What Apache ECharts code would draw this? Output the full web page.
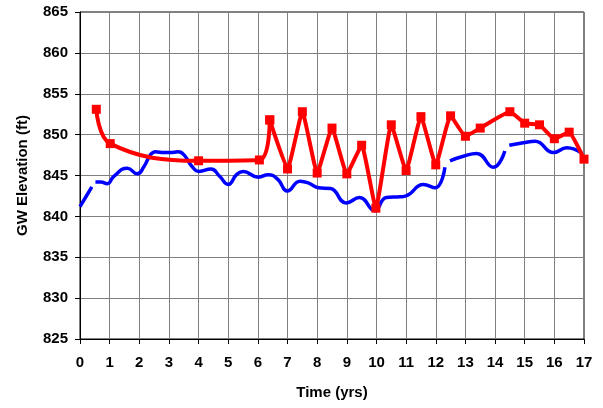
<!DOCTYPE html>
<html>
<head>
<meta charset="utf-8">
<script src="https://cdn.jsdelivr.net/npm/echarts@6/dist/echarts.min.js"></script>
<style>
html,body{margin:0;padding:0;background:#fff;}
#chart{width:603px;height:408px;}
</style>
</head>
<body>
<div id="chart"></div>
<script>
// Observed (red, with markers)
const redX = [0.55, 1.02, 4.0, 6.05, 6.4, 7.0, 7.5, 8.0, 8.5, 9.0, 9.5, 9.98, 10.5, 11.0, 11.5, 12.0, 12.5, 13.0, 13.5, 14.5, 15.0, 15.5, 16.0, 16.5, 17.0];
const redY = [853.1, 848.9, 846.8, 846.9, 851.8, 845.8, 852.8, 845.3, 850.8, 845.2, 848.7, 841.0, 851.2, 845.6, 852.2, 846.3, 852.3, 849.8, 850.8, 852.8, 851.4, 851.2, 849.5, 850.3, 847.0];
// index where the sparse (strongly smoothed) early record ends
const redSplit = 4;

// Simulated (blue dashed); null = break in the line
const blueX = [0.0, 0.2, 0.4, 0.46,
  0.52, 0.7, 0.92, 1.14, 1.6, 1.93, 2.16, 2.38, 2.55, 2.83, 3.05, 3.3, 3.5, 3.78, 4.01, 4.42, 4.71, 5.0, 5.28, 5.5, 6.01, 6.35, 6.68, 6.99, 7.42, 7.7, 8.04, 8.45, 8.98, 9.43, 9.94, 10.33, 10.8, 11.0, 11.58, 11.98, 12.31, 12.4,
  12.48, 12.93, 13.38, 13.94, 14.33, 14.4,
  14.48, 14.95, 15.35, 15.97, 16.42, 16.93];
const blueY = [841.2, 842.4, 843.6, null,
  844.2, 844.2, 844.0, 844.9, 845.9, 845.2, 846.1, 847.55, 847.9, 847.8, 847.8, 847.9, 847.55, 846.1, 845.5, 845.8, 844.9, 843.9, 845.1, 845.5, 844.8, 845.1, 844.5, 843.1, 844.3, 844.1, 843.5, 843.4, 841.65, 842.3, 840.7, 842.3, 842.4, 842.5, 843.9, 843.5, 846.0, null,
  846.8, 847.35, 847.7, 846.0, 848.0, null,
  848.7, 849.0, 849.2, 847.8, 848.4, 847.7];

const xTicks = {min: 0, max: 17, step: 1};
const yTicks = {min: 825, max: 865, step: 5};

const chart = echarts.init(document.getElementById('chart'), null, {renderer: 'canvas'});
const font = '"Liberation Sans", Arial, sans-serif';
const axisCommon = {
  axisLine: {show: true, lineStyle: {color: '#000', width: 1}},
  axisTick: {show: true, inside: false, length: 5, lineStyle: {color: '#000'}},
  splitLine: {show: true, lineStyle: {color: '#808080', width: 1}},
  axisLabel: {color: '#000', fontWeight: 'bold', fontSize: 15, fontFamily: font},
  nameTextStyle: {color: '#000', fontWeight: 'bold', fontSize: 15, fontFamily: font}
};
const redPairs = redX.map((x, i) => [x, redY[i]]);
const redStyle = {
  type: 'line', name: 'Observed',
  symbol: 'rect', symbolSize: 9,
  itemStyle: {color: '#ff0000'},
  lineStyle: {color: '#ff0000', width: 4},
  z: 3
};
chart.setOption({
  animation: false,
  backgroundColor: '#fff',
  grid: {left: 80, right: 19, top: 12, bottom: 69, show: true, borderColor: '#000', borderWidth: 1, backgroundColor: 'transparent'},
  xAxis: Object.assign({}, axisCommon, {
    type: 'value', min: xTicks.min, max: xTicks.max, interval: xTicks.step,
    name: 'Time (yrs)', nameLocation: 'middle', nameGap: 46,
    axisLabel: Object.assign({}, axisCommon.axisLabel, {margin: 16})
  }),
  yAxis: Object.assign({}, axisCommon, {
    type: 'value', min: yTicks.min, max: yTicks.max, interval: yTicks.step,
    name: 'GW Elevation (ft)', nameLocation: 'middle', nameGap: 50,
    axisLabel: Object.assign({}, axisCommon.axisLabel, {margin: 12})
  }),
  series: [
    {
      type: 'line', name: 'Simulated',
      data: blueX.map((x, i) => [x, blueY[i] === null ? '-' : blueY[i]]),
      showSymbol: false, symbol: 'none', smooth: 0.5, connectNulls: false,
      lineStyle: {color: '#0000ff', width: 3.5},
      z: 2
    },
    Object.assign({}, redStyle, {data: redPairs.slice(0, redSplit + 1), smooth: 0.4}),
    Object.assign({}, redStyle, {data: redPairs.slice(redSplit), smooth: 0.12})
  ]
});
</script>
</body>
</html>
